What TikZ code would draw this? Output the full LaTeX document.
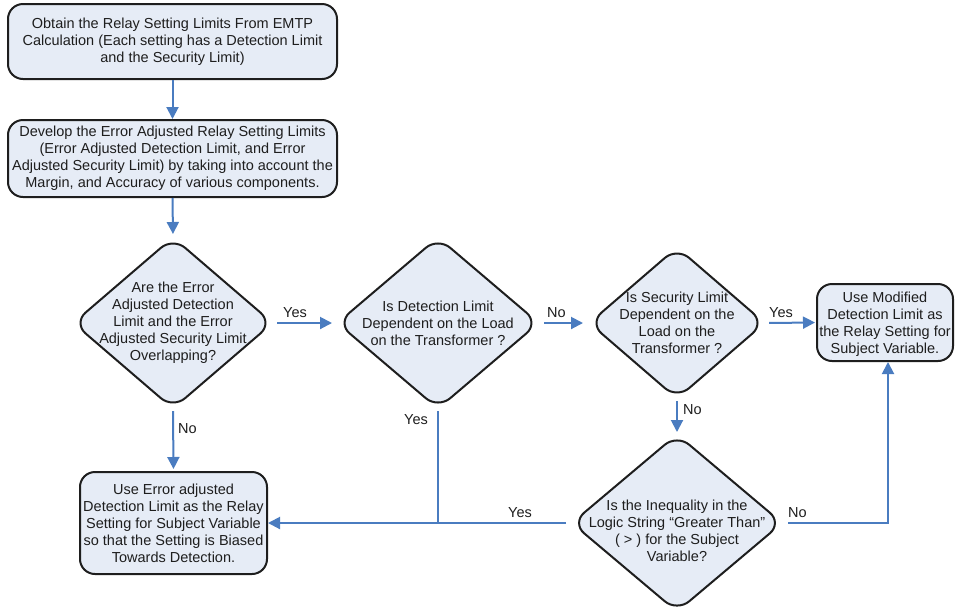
\documentclass[tikz,border=0pt]{standalone}
\usepackage{fontspec}
\setmainfont{Liberation Sans}
\usetikzlibrary{arrows.meta,shapes.geometric}
\definecolor{boxfill}{HTML}{E6ECF6}
\definecolor{flowblue}{HTML}{4A7CC0}
\definecolor{inkgray}{HTML}{1E1E1E}
\tikzset{
  txt/.style={font=\fontsize{14.5}{17}\selectfont, text=inkgray, align=center, inner sep=0pt},
  procbox/.style={rectangle, rounded corners=15pt, draw=inkgray, line width=2pt, fill=boxfill, inner sep=0pt},
  decision/.style={diamond, rounded corners=16pt, draw=inkgray, line width=2pt, fill=boxfill, inner sep=0pt},
  flow/.style={draw=flowblue, line width=2pt},
  arr/.style={flow, -{Triangle[length=12pt,width=12pt]}},
  lbl/.style={txt, anchor=base west},
}
\begin{document}
\begin{tikzpicture}[x=1pt,y=-1pt]
\useasboundingbox (0,0) rectangle (955,606);

% process boxes
\node[procbox, minimum width=329pt, minimum height=75pt] (b1) at (172.5,41.5) {};
\node[txt] (t1) at (b1) {Obtain the Relay Setting Limits From EMTP\\Calculation (Each setting has a Detection Limit\\and the Security Limit)};

\node[procbox, minimum width=329pt, minimum height=77pt] (b2) at (172.5,158.5) {};
\node[txt] (t2) at ([yshift=0.5pt]b2.center) {Develop the Error Adjusted Relay Setting Limits\\(Error Adjusted Detection Limit, and Error\\Adjusted Security Limit) by taking into account the\\Margin, and Accuracy of various components.};

\node[procbox, minimum width=136pt, minimum height=77pt] (bR) at (885,322.5) {};
\node[txt] (tR) at ([yshift=-1.5pt]bR.center) {Use Modified\\Detection Limit as\\the Relay Setting for\\Subject Variable.};

\node[procbox, minimum width=187pt, minimum height=102pt] (bL) at (173.5,523) {};
\node[txt] (tL) at (bL) {Use Error adjusted\\Detection Limit as the Relay\\Setting for Subject Variable\\so that the Setting is Biased\\Towards Detection.};

% decisions
\node[decision, minimum width=200pt, minimum height=172pt] (d1) at (173,323) {};
\node[txt] (td1) at (d1) {Are the Error\\Adjusted Detection\\Limit and the Error\\Adjusted Security Limit\\Overlapping?};

\node[decision, minimum width=202pt, minimum height=172pt] (d2) at (438,323) {};
\node[txt] (td2) at (d2) {Is Detection Limit\\Dependent on the Load\\on the Transformer ?};

\node[decision, minimum width=176pt, minimum height=152pt] (d3) at (677,323) {};
\node[txt] (td3) at (d3) {Is Security Limit\\Dependent on the\\Load on the\\Transformer ?};

\node[decision, minimum width=211pt, minimum height=178pt] (d4) at (677,523) {};
\node[txt] (td4) at ([yshift=-8pt]d4.center) {Is the Inequality in the\\Logic String “Greater Than”\\( > ) for the Subject\\Variable?};

% connectors
\draw[arr] (b1) -- (b2);
\draw[arr, shorten >=2pt] (b2.south) -- (d1.north);
\draw[arr, shorten <=3pt, shorten >=4pt] (d1.east) -- (d2.west);
\draw[arr, shorten <=4pt, shorten >=5pt] (d2.east) -- (d3.west);
\draw[arr, shorten <=3pt, shorten >=1pt] (d3.east) -- (bR.west);
\draw[arr, shorten <=1pt, shorten >=1pt] (d3.south) -- (d4.north);
\draw[arr, shorten <=1pt, shorten >=2pt] (d1.south) -- (bL.north);
\draw[arr, shorten <=4.5pt] (d4.west) -- (bL.east);
\draw[arr, shorten <=4.5pt] (d4.east) -| ([xshift=3pt]bR.south);
\draw[flow, shorten <=1pt] (d2.south) -- (d2.south |- d4.west);

% branch labels
\node[lbl] (lyes1) at (283,317) {Yes};
\node[lbl] (lno1) at (547,317) {No};
\node[lbl] (lyes2) at (769,317) {Yes};
\node[lbl] (lno2) at (683,414) {No};
\node[lbl] (lno3) at (178,433) {No};
\node[lbl] (lyes3) at (404,424) {Yes};
\node[lbl] (lyes4) at (508,517) {Yes};
\node[lbl] (lno4) at (788,517) {No};
\end{tikzpicture}
\end{document}
